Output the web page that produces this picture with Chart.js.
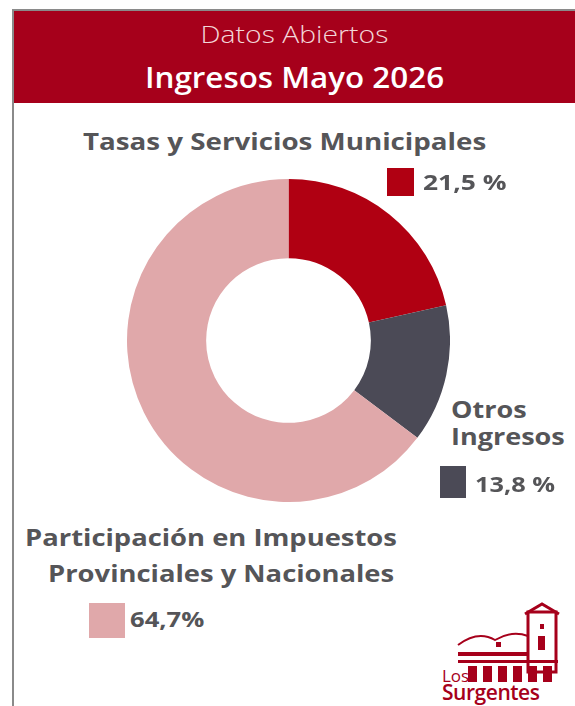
<!DOCTYPE html>
<html>
<head>
<meta charset="utf-8">
<script src="https://cdn.jsdelivr.net/npm/chart.js@4"></script>
<style>
    html, body { margin: 0; padding: 0; background: #fff; }
    body { width: 575px; height: 706px; position: relative; overflow: hidden; font-family: "Open Sans", sans-serif; }
    .frame { position: absolute; left: 12px; top: 9px; width: 580px; height: 720px; border-left: 2px solid #8a8a8a; border-top: 2px solid #8a8a8a; }
    .header { position: absolute; left: 14px; top: 11px; width: 561px; height: 92px; background: #a6001b; color: #fff; }
    .header div { position: absolute; left: 0; right: 0; text-align: center; transform-origin: 50% 50%; white-space: nowrap; }
    .header .sub { top: 6px; font-size: 24px; font-weight: 300; color: #f2d6d8; transform: scaleX(1.18); }
    .header .main { top: 47px; font-size: 28px; font-weight: 600; transform: scaleX(1.12); }
    .txt { position: absolute; color: #555558; font-weight: 700; white-space: nowrap; transform-origin: 0 0; }
    .box { position: absolute; }
    #wrap { position: absolute; left: 127px; top: 179px; width: 323px; height: 323px; }
</style>
</head>
<body>
<div class="frame"></div>
<div class="header">
    <div class="sub">Datos Abiertos</div>
    <div class="main">Ingresos Mayo 2026</div>
</div>
<div id="wrap"><canvas id="chart"></canvas></div>
<div id="labels"></div>
<svg style="position:absolute;left:440px;top:600px" width="130" height="106" viewBox="0 0 130 106">
    <g fill="#a6001b" stroke="#a6001b">
        <rect x="88" y="12" width="28" height="60" fill="none" stroke-width="3"/>
        <path d="M85 14 L102 4 L119 14" fill="none" stroke-width="3"/>
        <rect x="100" y="24" width="4" height="5" stroke="none"/>
        <rect x="98" y="36" width="7" height="14" stroke="none"/>
        <path d="M18 45 Q38 30 55 40 Q72 30 88 36" fill="none" stroke-width="2"/>
        <rect x="56" y="42" width="5" height="5" stroke="none"/>
        <rect x="18" y="52" width="70" height="4" stroke="none"/>
        <rect x="18" y="60" width="100" height="3" stroke="none"/>
        <rect x="28" y="66" width="9" height="16" stroke="none"/>
        <rect x="43" y="66" width="9" height="16" stroke="none"/>
        <rect x="58" y="66" width="9" height="16" stroke="none"/>
        <rect x="73" y="66" width="9" height="16" stroke="none"/>
        <rect x="88" y="66" width="9" height="16" stroke="none"/>
        <rect x="103" y="66" width="9" height="16" stroke="none"/>
    </g>
    <text x="2" y="82" font-family="Open Sans" font-size="17" fill="#a6001b">Los</text>
    <text x="2" y="100" font-family="Open Sans" font-size="21" font-weight="600" fill="#a6001b" textLength="98">Surgentes</text>
</svg>
<script>
"use strict";

const categories = ["Tasas y Servicios Municipales", "Otros Ingresos", "Participación en Impuestos Provinciales y Nacionales"];
const shares = [21.5, 13.8, 64.7];
const valueLabels = ["21,5 %", "13,8 %", "64,7%"];
const sliceColors = ["#b00012", "#4b4a56", "#e0a8aa"];

function addText(html, x, y, size, scale, lineHeight) {
    const el = document.createElement("div");
    el.className = "txt";
    el.innerHTML = html;
    el.style.left = x + "px";
    el.style.top = y + "px";
    el.style.fontSize = size + "px";
    el.style.transform = "scaleX(" + scale + ")";
    if (lineHeight) {
        el.style.lineHeight = lineHeight + "px";
    }
    document.getElementById("labels").appendChild(el);
}

function addBox(color, x, y, w, h) {
    const el = document.createElement("div");
    el.className = "box";
    el.style.left = x + "px";
    el.style.top = y + "px";
    el.style.width = w + "px";
    el.style.height = h + "px";
    el.style.background = color;
    document.getElementById("labels").appendChild(el);
}

function buildLabels() {
    addText(categories[0], 83, 124, 24, 1.155);
    addBox(sliceColors[0], 387, 168, 27, 28);
    addText(valueLabels[0], 423, 166, 22, 1.2);

    addText("Otros<br>Ingresos", 451, 396, 22.5, 1.2, 27);
    addBox(sliceColors[1], 440, 466, 26, 32);
    addText(valueLabels[1], 475, 468, 22, 1.15);

    addText("Participación en Impuestos", 25, 521, 23, 1.19);
    addText("Provinciales y Nacionales", 48, 557, 23, 1.19);
    addBox(sliceColors[2], 89, 603, 36, 35);
    addText(valueLabels[2], 130, 605, 21, 1.22);
}

function donutChart() {
    const ctx = document.querySelector("#chart").getContext("2d");
    new Chart(ctx, {
        type: "doughnut",
        data: {
            labels: categories,
            datasets: [{
                data: shares,
                backgroundColor: sliceColors,
                borderWidth: 0
            }]
        },
        options: {
            responsive: true,
            maintainAspectRatio: false,
            animation: false,
            cutout: "51%",
            plugins: {
                legend: { display: false },
                tooltip: { enabled: false }
            }
        }
    });
}

buildLabels();
donutChart();
</script>
</body>
</html>
